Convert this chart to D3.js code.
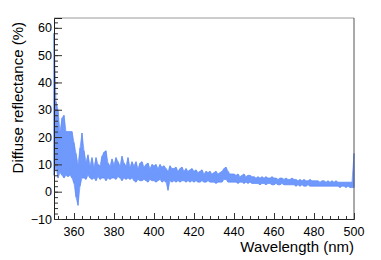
<!DOCTYPE html>
<html>
<head>
<meta charset="utf-8">
<script src="https://cdn.jsdelivr.net/npm/d3@7"></script>
<style>
  body { margin: 0; background: #fff; }
  svg text { font-family: "Liberation Sans", Arial, sans-serif; }
</style>
</head>
<body>
<div id="grafico"></div>
<script>
// comprimento de onda (nm), passo de 1 nm
var lambdaIni = 350, lambdaFim = 500;
var eixoX = [350, 500];
var eixoY = [-10, 63.6];
var ticksX = [360, 380, 400, 420, 440, 460, 480, 500];
var ticksY = [-10, 0, 10, 20, 30, 40, 50, 60];

// limite superior da banda (%)
var superior = [
    58, 33, 30, 22, 27, 28, 22, 22, 22, 22,
    18, 14, 10, 16, 21.5, 15, 11, 13.5, 9.5, 12.5,
    9, 12.5, 10, 9.5, 13, 14.5, 15, 10.5, 9.5, 12,
    10, 12.5, 11, 9.5, 13, 10.5, 9.5, 12.5, 9, 11,
    9.5, 11, 8.5, 10.5, 11, 9, 10, 10.5, 8.5, 10,
    9.5, 10, 8.5, 10, 9, 9.5, 8.5, 7.5, 9.5, 8.5,
    8.5, 9, 7.5, 8.5, 9, 7.5, 8.5, 7.5, 8, 8.5,
    7.5, 8, 7, 7.5, 8, 6.5, 7.5, 7, 7.5, 6.5,
    7, 7.5, 6.5, 7, 7.5, 8.5, 9, 7.5, 6.5, 6.5,
    6.5, 6, 6.5, 5.5, 6, 6.5, 5.5, 6, 6, 5.5,
    5.5, 5, 5.5, 5, 5.5, 5, 5.5, 5, 5, 5.5,
    5, 5, 4.5, 5, 5, 4.5, 5, 4.5, 4.5, 5,
    4.5, 4.5, 4, 4.5, 4, 4.5, 4, 4, 4.5, 4,
    4, 4, 4, 3.5, 4, 4, 3.5, 4, 3.5, 4,
    3.5, 4, 3.5, 3.5, 3.5, 3.5, 3.5, 3.5, 3.5, 3.5, 14
];
// limite inferior da banda (%)
var inferior = [
    6, 9, 5, 7, 6, 5, 6, 5.5, 6, 5,
    3, -2, -5, 2, 5, 5, 4.5, 6, 5, 4.5,
    5, 4, 5.5, 4.5, 5, 5, 4, 5, 4.5, 5,
    5, 4.5, 5.5, 5, 4, 5, 4.5, 5, 4.5, 5,
    4, 3.5, 4.5, 4, 4, 4.5, 4, 3.5, 4.5, 4,
    4, 3.5, 4, 4.5, 3.5, 4, 3.5, 0.5, 4, 3.5,
    4, 3.5, 4, 3.5, 4, 4, 3.5, 4, 3.5, 4,
    3.5, 4, 3.5, 3.5, 4, 3.5, 3.5, 4, 3.5, 3.5,
    3.5, 3, 3.5, 3.5, 3.5, 4.5, 4.5, 3.5, 3.5, 3.5,
    3.5, 3.5, 3, 3.5, 3.5, 3, 3.5, 3, 3.5, 3,
    3, 3, 3, 2.5, 3, 3, 2.5, 3, 3, 2.5,
    2.5, 3, 2.5, 2.5, 3, 2.5, 2.5, 2.5, 2.5, 2.5,
    2.5, 2, 2.5, 2, 2.5, 2, 2, 2.5, 2, 2,
    2, 2, 2, 2, 2, 2, 2, 2, 2, 2,
    2, 2, 2, 1.5, 2, 2, 1.5, 2, 1.5, 1.5, 1.5
];

!function() {
    var largura = 381, altura = 260;
    var margem = {esq: 54, dir: 354, topo: 18, base: 219};

    var fx = d3.scaleLinear().domain(eixoX).range([margem.esq, margem.dir]);
    var fy = d3.scaleLinear().domain(eixoY).range([margem.base, margem.topo]);

    var svg = d3.select('#grafico')
                .append('svg')
                  .attr('width', largura)
                  .attr('height', altura);

    svg.append('rect')
        .attr('width', largura).attr('height', altura)
        .attr('fill', '#fff');

    var pontos = superior.map(function(d, i) {
        return {l: lambdaIni + i, hi: d, lo: inferior[i]};
    });

    // banda de erro
    var area = d3.area()
        .x(function(d) { return fx(d.l); })
        .y0(function(d) { return fy(d.lo); })
        .y1(function(d) { return fy(d.hi); });

    svg.append('path')
        .datum(pontos)
        .attr('d', area)
        .attr('fill', '#86abff')
        .attr('stroke', '#5a88fb')
        .attr('stroke-width', 0.6);

    // barras de erro verticais (textura)
    svg.append('g')
        .selectAll('line')
        .data(pontos).enter()
        .append('line')
          .attr('x1', function(d) { return fx(d.l); })
          .attr('x2', function(d) { return fx(d.l); })
          .attr('y1', function(d) { return fy(d.lo); })
          .attr('y2', function(d) { return fy(d.hi); })
          .attr('stroke', '#4f7ff7')
          .attr('stroke-width', 0.8);

    // moldura
    svg.append('line')
        .attr('x1', margem.esq).attr('x2', margem.dir)
        .attr('y1', margem.topo).attr('y2', margem.topo)
        .attr('stroke', '#999').attr('stroke-width', 1.2);
    svg.append('line')
        .attr('x1', margem.dir).attr('x2', margem.dir)
        .attr('y1', margem.topo).attr('y2', margem.base)
        .attr('stroke', '#555');

    // eixo x (ticks para dentro)
    var gx = svg.append('g')
        .attr('transform', 'translate(0,' + margem.base + ')');
    gx.append('g')
        .call(d3.axisTop(fx).tickValues(d3.range(352, 501, 4)).tickSize(3).tickFormat(''))
        .call(function(g) { g.select('.domain').remove(); });
    gx.append('g')
        .call(d3.axisTop(fx).tickValues(ticksX).tickSize(6).tickFormat(''));
    gx.selectAll('.domain').attr('stroke', '#222');
    gx.selectAll('.tick line').attr('stroke', '#333');
    gx.selectAll('text.rotulo')
        .data(ticksX).enter()
        .append('text')
          .attr('class', 'rotulo')
          .attr('x', function(d) { return fx(d); })
          .attr('y', 17)
          .attr('text-anchor', 'middle')
          .attr('font-size', '12.5px')
          .text(function(d) { return d; });

    // eixo y (ticks para dentro)
    var gy = svg.append('g')
        .attr('transform', 'translate(' + margem.esq + ',0)');
    gy.append('g')
        .call(d3.axisRight(fy).tickValues(d3.range(-10, 63.7, 2)).tickSize(4).tickFormat(''))
        .call(function(g) { g.select('.domain').remove(); });
    gy.append('g')
        .call(d3.axisRight(fy).tickValues(ticksY).tickSize(8).tickFormat(''));
    gy.selectAll('.domain').attr('stroke', '#222');
    gy.selectAll('.tick line').attr('stroke', '#333');
    gy.selectAll('text.rotulo')
        .data(ticksY).enter()
        .append('text')
          .attr('class', 'rotulo')
          .attr('x', -2)
          .attr('y', function(d) { return fy(d); })
          .attr('dy', '.36em')
          .attr('text-anchor', 'end')
          .attr('font-size', '12.5px')
          .text(function(d) { return d < 0 ? '\u2212' + (-d) : d; });

    // titulos
    svg.append('text')
        .attr('x', margem.dir)
        .attr('y', 252)
        .attr('text-anchor', 'end')
        .attr('font-size', '15px')
        .text('Wavelength (nm)');

    svg.append('text')
        .attr('transform', 'translate(23,' + 22 + ') rotate(-90)')
        .attr('text-anchor', 'end')
        .attr('font-size', '15px')
        .text('Diffuse reflectance (%)');
}();
</script>
</body>
</html>
